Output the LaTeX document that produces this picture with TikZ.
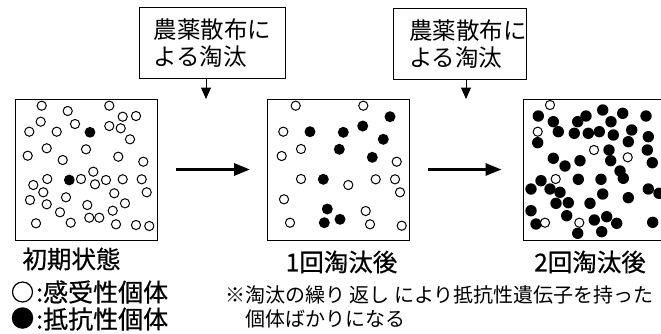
\documentclass[tikz,border=0pt]{standalone}
\usepackage{fontspec}
\setmainfont{Noto Sans CJK JP}
\newfontfamily\lblfont[FakeBold=0.6]{Noto Sans CJK JP}
\usetikzlibrary{arrows.meta}
\tikzset{
  panel/.style={draw, line width=1pt, minimum width=142pt, minimum height=141pt, inner sep=0pt},
  notebox/.style={draw, line width=1pt, anchor=north west, minimum height=71pt, align=left,
    text width=118pt, inner ysep=0pt, font=\fontsize{23.5}{26.5}\selectfont},
  labeltext/.style={inner sep=0pt, font=\lblfont\fontsize{24.5}{28}\selectfont},
  legtext/.style={inner sep=0pt, anchor=west, font=\lblfont\fontsize{25}{28}\selectfont},
  legopen/.style={circle, draw, line width=1.2pt, minimum size=20pt, inner sep=0pt},
  legfull/.style={circle, fill=black, minimum size=21.5pt, inner sep=0pt},
  notetext/.style={inner sep=0pt, anchor=west, font=\fontsize{20}{24}\selectfont},
  opendot/.style={draw, fill=white, line width=1pt},
  fulldot/.style={fill=black},
  thinarrow/.style={line width=1pt, -{Triangle[length=11.5pt,width=10pt]}},
  bigarrow/.style={line width=3pt, -{Triangle[length=16pt,width=12pt]}},
}
\begin{document}
\begin{tikzpicture}[x=1pt,y=-1pt]
\clip (0,0) rectangle (661,333);
\fill[white] (0,0) rectangle (661,333);

% top boxes
\node[notebox, inner xsep=14pt] (tb1) at (139,7) {農薬散布に\\よる淘汰};
\node[notebox, inner xsep=7.5pt] (tb2) at (393,8) {\hspace*{8pt}農薬散布に\\\hspace*{8pt}よる淘汰};

% panels
\node[panel] (p1) at (86,169.5) {};
\node[panel] (p2) at (338.5,169.5) {};
\node[panel] (p3) at (594,169.5) {};

% arrows
\coordinate (v1) at (206,99);
\coordinate (v2) at (466,99);
\draw[thinarrow] (tb1.south -| v1) -- (v1);
\draw[thinarrow] (tb2.south -| v2) -- (v2);
\draw[bigarrow] ([xshift=18pt]p1.east) -- ([xshift=-17pt]p2.west);
\draw[bigarrow] ([xshift=18pt]p2.east) -- ([xshift=-21pt]p3.west);

% panel 1
\foreach \x/\y in {90/132.3, 69.3/180}
  \fill[fulldot] (\x,\y) circle[radius=5.4];
\foreach \x/\y in {41.7/105.7, 67.7/111, 109.3/105.7, 122.7/116.7, 136/116, 40.7/121.7, 29.3/131.7, 56.7/131.7, 75/124, 109.3/126, 120.7/128.3, 130/139.3, 46.7/148.3, 86/149.3, 27.7/155.7, 62.7/160, 118.3/156.7, 143.3/161.7, 93.3/171.7, 47.3/179, 81/179, 33.3/185, 95/184.3, 106/180, 122.7/179.3, 141.7/179.3, 43.3/192.3, 114.3/193.3, 146.7/192.3, 30/200, 66/197.3, 46.7/204.3, 87.3/205, 125/203.3, 60/212.3, 112.7/210.7, 36/223.3, 70.7/222.7, 89.3/217.7, 99.3/217.7, 116/224.3, 136/225, 149.3/226}
  \draw[opendot] (\x,\y) circle[radius=4.6];

% panel 2
\foreach \x/\y in {390/116.7, 362.7/126, 310/131.7, 343.3/132.3, 383.3/139.3, 339.3/149.3, 372.3/157.3, 323.3/179.3, 327.3/209, 324.3/222.7, 340/219.3}
  \fill[fulldot] (\x,\y) circle[radius=5.5];
\foreach \x/\y in {295.7/105.7, 363.3/105.7, 283.3/131.7, 301/149, 281.7/156, 396.7/161.7, 301/179, 348.3/185, 375.7/179.3, 395/179.3, 400/192.3, 284/199.3, 365.7/211, 290/222.7, 370/224.3, 401.7/225.7}
  \draw[opendot] (\x,\y) circle[radius=4.6];

% panel 3
\foreach \x/\y in {538.3/116, 553.3/121.7, 558.3/131.7, 577.7/121.7, 586/116, 574.3/133.3, 588.3/133.3, 599.3/131.7, 602.7/110, 611/121.7, 613.3/135, 622.7/113.3, 631.7/130, 646/116, 648.3/136.7, 628.3/141.7, 537.7/142.7, 609/150, 647.3/150, 553.3/158.3, 565/166, 580/160.7, 610.7/160.7, 652.3/162.7, 620/171, 623.3/178.3, 541/180.7, 531/189, 550/189, 578.3/179.3, 601/179.3, 560/192.3, 648.3/189, 659/193.3, 602.7/194, 556/203.3, 568.3/202.7, 590/203.3, 628.3/197.7, 531/210.7, 566.7/215.7, 536/224, 594.3/220, 606.7/216.7, 616.7/223.3, 577.7/233.3, 601.7/231.7, 652.7/222.3}
  \fill[fulldot] (\x,\y) circle[radius=5.7];
\foreach \x/\y in {550/105, 537.7/131.7, 594/150, 627.7/157.3, 555.7/179, 545/222.7, 579.3/222.7}
  \draw[opendot] (\x,\y) circle[radius=4.6];

% labels
\node[labeltext] (l0) at (71.5,259) {初期状態};
\node[labeltext] (l1) at (341.5,262) {1回淘汰後};
\node[labeltext] (l2) at (590,262) {2回淘汰後};

% legend
\node[legopen] (s0) at (22.5,292) {};
\node[legtext] (s1) at (36,292) {:感受性個体};
\node[legfull] (r0) at (22.5,318) {};
\node[legtext] (r1) at (36,319) {:抵抗性個体};

% note
\node[notetext] (n1) at (225,295) {※淘汰の繰り 返し により抵抗性遺伝子を持った};
\node[notetext] (n2) at (225,319) {　個体ばかりになる};
\end{tikzpicture}
\end{document}
